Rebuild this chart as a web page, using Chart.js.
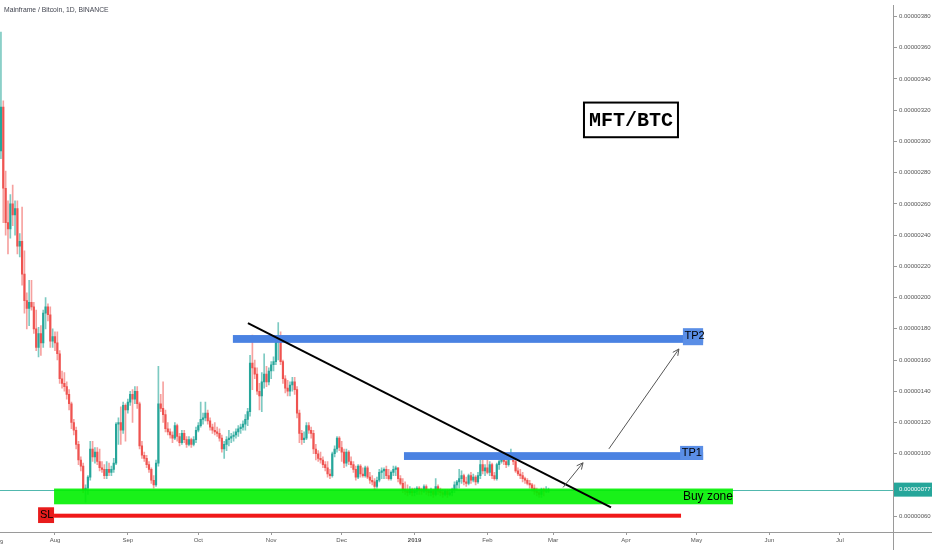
<!DOCTYPE html>
<html><head><meta charset="utf-8">
<script src="https://cdn.jsdelivr.net/npm/chart.js@4.4.1/dist/chart.umd.min.js"></script>
<style>html,body{margin:0;padding:0;background:#fff;overflow:hidden}canvas{display:block}</style>
</head><body>
<canvas id="c" width="932" height="550"></canvas>
<script>
// MFT/BTC daily candles, Binance, starting 2018-07-09 (values in satoshi = 1e-8 BTC)
const startDate = '2018-07-09';
const open = [294,322,270,248,244,260,253,257,233,236,215,198,193,197,194,180,168,177,171,190,194,189,172,175,171,164,148,145,143,138,132,120,115,106,96,92,77,78,85,103,98,101,95,91,90,86,90,88,90,94,119,120,115,131,128,133,138,135,140,132,105,99,97,93,90,83,80,94,132,129,125,116,114,112,110,118,111,107,113,109,106,109,106,109,115,118,122,123,126,121,117,115,114,113,110,103,106,109,110,111,112,114,116,117,119,122,127,158,155,151,140,137,146,151,146,153,157,159,173,175,159,148,142,140,144,146,141,126,113,109,110,118,115,113,103,100,97,96,93,91,87,86,100,103,110,104,101,94,101,95,93,90,85,92,87,86,91,85,83,82,79,83,88,89,90,86,84,88,90,91,84,81,77,76,75,77,75,76,78,77,76,79,76,75,76,74,79,76,75,74,76,74,75,77,80,82,84,86,82,81,86,83,85,82,86,93,89,91,88,93,86,84,93,95,100,95,93,99,100,95,89,87,86,84,83,81,80,78,76,75,74,77,76,76];
const high = [370,326,281,262,266,272,262,262,241,258,230,203,211,211,197,192,181,182,192,200,196,194,180,178,178,166,153,152,146,141,133,122,117,108,98,94,80,86,108,108,104,104,103,95,93,95,94,92,97,120,123,130,133,132,135,140,141,143,143,133,108,101,99,95,91,86,96,156,138,146,128,120,116,114,120,119,113,115,115,111,111,110,111,117,120,133,126,133,128,123,119,120,117,116,112,108,111,115,113,114,116,118,119,121,125,129,163,176,160,155,145,152,164,156,155,159,162,175,184,178,160,150,147,146,149,149,143,128,115,114,120,120,117,115,106,102,101,98,95,95,90,101,105,111,111,108,103,103,102,98,95,92,93,93,91,92,92,88,86,84,85,90,91,91,92,90,89,92,92,91,86,84,82,80,79,78,78,79,79,78,80,80,77,78,77,84,80,78,77,77,77,77,78,82,83,90,89,87,85,87,88,87,86,88,96,96,93,96,95,94,88,94,96,101,101,98,100,103,100,96,91,90,88,85,84,83,81,80,78,77,78,78,79,78];
const low = [289,248,240,228,238,246,240,228,226,208,190,180,182,192,177,166,162,163,168,180,185,168,168,166,160,145,142,140,135,128,116,112,103,93,89,75,69,74,83,95,94,93,89,88,84,84,86,86,88,93,106,106,113,108,126,131,120,132,129,103,97,95,91,88,81,78,79,92,127,120,114,112,110,107,109,108,105,106,107,104,105,104,105,107,114,117,119,121,119,115,113,112,111,108,101,97,102,105,107,108,110,111,113,115,115,118,124,141,148,138,128,127,142,143,144,148,153,157,160,157,145,139,137,137,140,138,123,107,106,107,109,113,110,100,96,95,94,91,89,85,84,85,98,101,102,95,91,92,93,91,88,83,84,85,85,85,84,81,80,77,78,82,84,84,84,83,83,86,86,82,80,75,74,73,74,73,73,74,74,74,75,74,73,73,72,73,74,73,72,73,72,73,73,75,77,78,81,80,79,80,81,82,80,81,84,87,86,87,86,84,83,83,90,94,93,91,92,96,93,88,86,84,82,81,80,78,76,74,73,72,72,73,75,75];
const close = [322,270,248,244,260,253,257,233,236,215,198,193,197,194,180,168,177,171,190,194,189,172,175,171,164,148,145,143,138,132,120,115,106,96,92,77,78,85,103,98,101,95,91,90,86,90,88,90,94,119,120,115,131,128,133,138,135,140,132,105,99,97,93,90,83,80,94,132,129,125,116,114,112,110,118,111,107,113,109,106,109,106,109,115,118,122,123,126,121,117,115,114,113,110,103,106,109,110,111,112,114,116,117,119,122,127,158,155,151,140,137,146,151,146,153,157,159,173,175,159,148,142,140,144,146,141,126,113,109,110,118,115,113,103,100,97,96,93,91,87,86,100,103,110,104,101,94,101,95,93,90,85,92,87,86,91,85,83,82,79,83,88,89,90,86,84,88,90,91,84,81,77,76,75,77,75,76,78,77,76,79,76,75,76,74,79,76,75,74,76,74,75,77,80,82,84,86,82,81,86,83,85,82,86,93,89,91,88,93,86,84,93,95,100,95,93,99,100,95,89,87,86,84,83,81,80,78,76,75,74,77,76,76,77];

// x-axis ticks (day index from start) and labels
const monthTickDays = [23,54,84,115,145,176,207,235,266,296,327,357];
const monthTickLabels = ['Aug','Sep','Oct','Nov','Dec','2019','Feb','Mar','Apr','May','Jun','Jul'];
// y-axis ticks (satoshi)
const priceTicks = [60,80,100,120,140,160,180,200,220,240,260,280,300,320,340,360,380];
const lastPrice = 77;

// drawn levels / annotations (data coordinates: day index, satoshi)
const tp2Zone = {d0:98.7, d1:298.8, lo:171, hi:176};
const tp1Zone = {d0:171.5, d1:298.8, lo:96, hi:101};
const buyZone = {d0:22.6, d1:311.5, lo:67.6, hi:77.7};
const stopLoss = {d0:22.6, d1:289.4, price:60.3};
const trendLine = [[105.1,183.6],[259.6,65.7]];
const arrows = [[[239.2,78.4],[247.7,94.2]], [[258.7,103.1],[288.5,167.1]]];

const UP = '#26a69a', DOWN = '#ef5350';
const wickData = close.map((c,i)=>({x:i, y:[low[i], high[i]]}));
const bodyData = close.map((c,i)=>({x:i, y:[Math.min(open[i],c), Math.max(open[i],c)]}));
const candleColors = close.map((c,i)=> c>=open[i] ? UP : DOWN);
const wickColors = close.map((c,i)=> c>=open[i] ? 'rgba(38,166,154,0.6)' : 'rgba(239,83,80,0.55)');

const FONT = 'Liberation Sans, Arial, sans-serif';

const overlay = {
  id:'overlay',
  afterDraw(chart){
    const {ctx, scales:{x,y}, chartArea:ca} = chart;
    const X = v=>x.getPixelForValue(v), Y = v=>y.getPixelForValue(v);
    ctx.save();
    // current price line
    ctx.strokeStyle = 'rgba(38,166,154,0.8)'; ctx.lineWidth = 1;
    ctx.beginPath(); ctx.moveTo(ca.left, Math.round(Y(lastPrice))+0.5); ctx.lineTo(ca.right, Math.round(Y(lastPrice))+0.5); ctx.stroke();
    // buy zone
    ctx.fillStyle = 'rgba(0,240,0,0.9)';
    ctx.fillRect(X(buyZone.d0), Y(buyZone.hi), X(buyZone.d1)-X(buyZone.d0), Y(buyZone.lo)-Y(buyZone.hi));
    // SL line
    ctx.fillStyle = '#f01818';
    ctx.fillRect(X(stopLoss.d0), Y(stopLoss.price)-2, X(stopLoss.d1)-X(stopLoss.d0), 4);
    ctx.fillStyle = '#e81c1c';
    ctx.fillRect(X(15.8), Y(65.7), X(22.6)-X(15.8), Y(55.6)-Y(65.7));
    // TP zones
    ctx.fillStyle = '#4a82e2';
    for (const z of [tp2Zone, tp1Zone]) {
      ctx.fillRect(X(z.d0), Y(z.hi), X(z.d1)-X(z.d0), Y(z.lo)-Y(z.hi));
    }
    ctx.fillStyle = '#5a8ee6';
    ctx.fillRect(X(290.2), Y(180.4), X(298.8)-X(290.2), Y(169.5)-Y(180.4));
    ctx.fillRect(X(289.0), Y(105.0), X(298.8)-X(289.0), Y(96)-Y(105.0));
    // labels
    ctx.fillStyle = '#000'; ctx.textBaseline = 'middle'; ctx.textAlign = 'left';
    ctx.font = '11px ' + FONT;
    ctx.fillText('TP2', X(290.9), Y(175.2));
    ctx.fillText('TP1', X(289.7), Y(100.2));
    ctx.font = '12px ' + FONT;
    ctx.fillText('Buy zone', X(290.2), Y(72.6));
    ctx.font = '11px ' + FONT;
    ctx.fillText('SL', X(16.6), Y(60.6));
    // trend line
    ctx.strokeStyle = '#000'; ctx.lineWidth = 2;
    ctx.beginPath(); ctx.moveTo(X(trendLine[0][0]), Y(trendLine[0][1])); ctx.lineTo(X(trendLine[1][0]), Y(trendLine[1][1])); ctx.stroke();
    // arrows
    ctx.strokeStyle = '#555'; ctx.lineWidth = 1;
    for (const a of arrows) {
      const x0=X(a[0][0]), y0=Y(a[0][1]), x1=X(a[1][0]), y1=Y(a[1][1]);
      const ang = Math.atan2(y1-y0, x1-x0), L = 7;
      ctx.beginPath(); ctx.moveTo(x0,y0); ctx.lineTo(x1,y1);
      ctx.moveTo(x1 - L*Math.cos(ang-0.45), y1 - L*Math.sin(ang-0.45)); ctx.lineTo(x1,y1);
      ctx.lineTo(x1 - L*Math.cos(ang+0.45), y1 - L*Math.sin(ang+0.45));
      ctx.stroke();
    }
    // MFT/BTC box
    const bx0=X(248.1), bx1=X(288.1), by0=Y(324.9), by1=Y(302.7);
    ctx.fillStyle='#fff'; ctx.fillRect(bx0,by0,bx1-bx0,by1-by0);
    ctx.strokeStyle='#000'; ctx.lineWidth=2; ctx.strokeRect(bx0,by0,bx1-bx0,by1-by0);
    ctx.fillStyle='#000'; ctx.font='bold 20px Liberation Mono, Courier New, monospace'; ctx.textAlign='center';
    ctx.fillText('MFT/BTC', (bx0+bx1)/2, (by0+by1)/2+1);
    // title
    ctx.textAlign='left'; ctx.font='6.8px ' + FONT; ctx.fillStyle='#434651';
    ctx.fillText('Mainframe / Bitcoin, 1D, BINANCE', 4, 10);
    // axis extensions
    ctx.strokeStyle='#9a9a9a'; ctx.lineWidth=1;
    ctx.beginPath(); ctx.moveTo(ca.right+0.5, ca.bottom); ctx.lineTo(ca.right+0.5, 550);
    ctx.moveTo(ca.right, ca.bottom+0.5); ctx.lineTo(932, ca.bottom+0.5); ctx.stroke();
    // partial first date label
    ctx.fillStyle='#555'; ctx.font='6px ' + FONT; ctx.textBaseline='middle';
    ctx.fillText('9', 0, 542);
    // last price label
    const py = Y(lastPrice);
    ctx.fillStyle = UP; ctx.fillRect(ca.right+1, py-7, 932-ca.right, 14);
    ctx.fillStyle = '#fff'; ctx.font='6px ' + FONT;
    ctx.fillText((lastPrice/1e8).toFixed(8), ca.right+6, py);
    ctx.restore();
  }
};

new Chart(document.getElementById('c'), {
  type:'bar',
  data:{datasets:[
    {data:wickData, backgroundColor:wickColors, barThickness:1, grouped:false, borderWidth:0, order:2},
    {data:bodyData, backgroundColor:candleColors, barThickness:1.5, grouped:false, borderWidth:0, minBarLength:1, order:1}
  ]},
  options:{
    responsive:false, animation:false, devicePixelRatio:1,
    layout:{padding:0},
    plugins:{legend:{display:false}, tooltip:{enabled:false}, title:{display:false}},
    scales:{
      x:{type:'linear', min:-0.4, max:379.6, offset:false,
        grid:{drawOnChartArea:false, offset:false, tickLength:3, color:'#9a9a9a'},
        border:{color:'#9a9a9a'},
        afterBuildTicks:s=>{ s.ticks = monthTickDays.map(v=>({value:v})); },
        afterFit:s=>{ s.height = 18; },
        ticks:{autoSkip:false, maxRotation:0, color:'#555', padding:2,
          font:c=>({size:6, family:FONT, weight: (c.tick && c.tick.value===176) ? 'bold' : 'normal'}),
          callback:v=>{ const k = monthTickDays.indexOf(v); return k>=0 ? monthTickLabels[k] : ''; }}
      },
      y:{position:'right', min:49.86, max:387,
        grid:{drawOnChartArea:false, offset:false, tickLength:4, color:'#9a9a9a'},
        border:{color:'#9a9a9a'},
        afterBuildTicks:s=>{ s.ticks = priceTicks.map(v=>({value:v})); },
        afterFit:s=>{ s.width = 39; },
        ticks:{color:'#555', padding:2, font:{size:6, family:FONT}, callback:v=>(v/1e8).toFixed(8)}
      }
    }
  },
  plugins:[overlay]
});
</script>
</body></html>
